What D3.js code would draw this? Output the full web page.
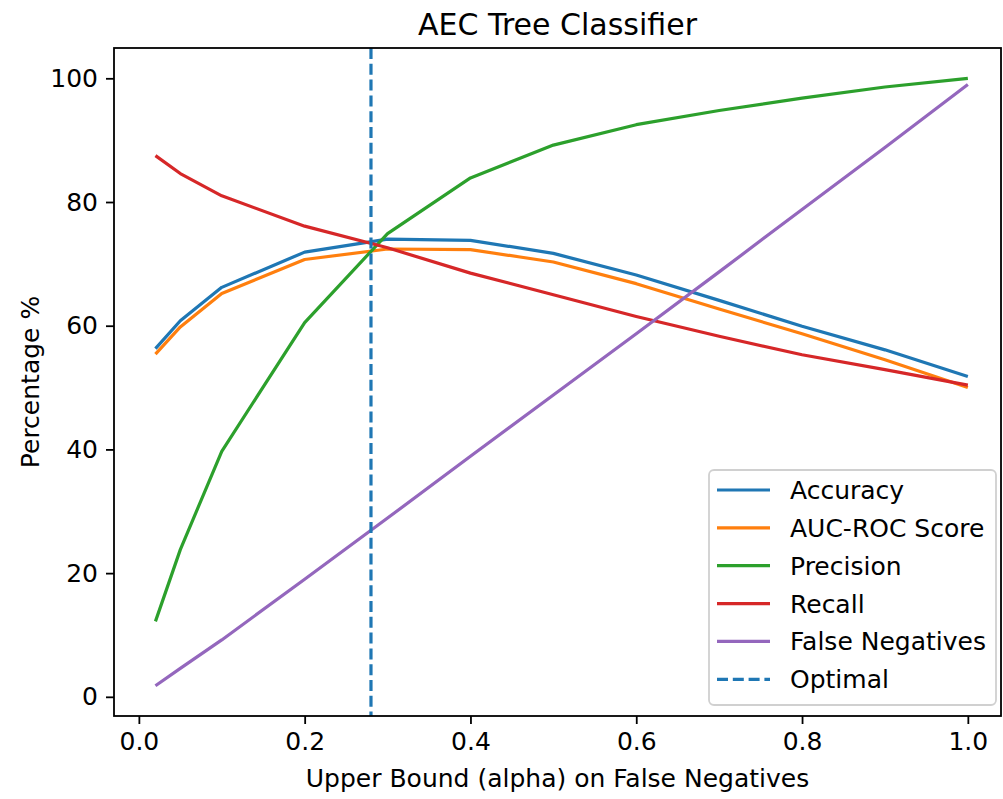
<!DOCTYPE html>
<html>
<head>
<meta charset="utf-8">
<script src="https://cdn.jsdelivr.net/npm/d3@7"></script>
<style>
  html, body { margin: 0; padding: 0; background: #fff; }
  svg { display: block; font-family: "DejaVu Sans", sans-serif; }
</style>
</head>
<body>
<svg id="chart" width="1003" height="799"></svg>
<script>
// ---- data ----
const alphas = [0.02, 0.05, 0.1, 0.2, 0.3, 0.4, 0.5, 0.6, 0.7, 0.8, 0.9, 1.0];
const accuracy = [56.3, 60.8, 66.2, 71.9, 74.0, 73.8, 71.7, 68.2, 64.1, 59.9, 56.1, 51.8];
const aucRoc = [55.4, 59.8, 65.2, 70.7, 72.4, 72.3, 70.3, 66.8, 62.7, 58.7, 54.5, 50.0];
const precision = [12.2, 23.8, 39.7, 60.5, 74.9, 83.9, 89.2, 92.5, 94.8, 96.8, 98.6, 100.0];
const recall = [87.5, 84.6, 81.0, 76.1, 72.6, 68.5, 65.0, 61.5, 58.3, 55.3, 52.9, 50.4];
const falseNegatives = [1.8, 4.6, 9.2, 19.0, 28.9, 38.9, 48.8, 58.7, 68.7, 78.8, 88.8, 99.0];
const optimalAlpha = 0.28;
const xTicks = [0.0, 0.2, 0.4, 0.6, 0.8, 1.0];
const yTicks = [0, 20, 40, 60, 80, 100];
const seriesNames = ["Accuracy", "AUC-ROC Score", "Precision", "Recall", "False Negatives"];
const seriesColors = ["#1f77b4", "#ff7f0e", "#2ca02c", "#d62728", "#9467bd"];
const seriesValues = [accuracy, aucRoc, precision, recall, falseNegatives];
const titleText = "AEC Tree Classifier";
const xLabel = "Upper Bound (alpha) on False Negatives";
const yLabel = "Percentage %";

// ---- layout ----
const svg = d3.select("#chart");
const L = 114, R = 1001, T = 48, B = 716;
const x = d3.scaleLinear().domain([-0.03, 1.04]).range([L, R]);
const y = d3.scaleLinear().domain([-3.1, 104.9]).range([B, T]);

const fs = 25;
const lw = 3.2;
const dash = "11,4.8";

// lines
const line = d3.line().x((d, i) => x(alphas[i])).y(d => y(d));
const g = svg.append("g");
seriesValues.forEach((vals, k) => {
  g.append("path")
    .attr("d", line(vals))
    .attr("fill", "none")
    .attr("stroke", seriesColors[k])
    .attr("stroke-width", lw)
    .attr("stroke-linejoin", "round")
    .attr("stroke-linecap", "butt");
});

// optimal dashed line
g.append("line")
  .attr("x1", x(optimalAlpha)).attr("x2", x(optimalAlpha))
  .attr("y1", T).attr("y2", B)
  .attr("stroke", "#1f77b4")
  .attr("stroke-width", lw)
  .attr("stroke-dasharray", dash);

// axes
const xAxis = d3.axisBottom(x).tickValues(xTicks).tickFormat(d3.format(".1f")).tickSize(8).tickPadding(8);
const yAxis = d3.axisLeft(y).tickValues(yTicks).tickFormat(d3.format("d")).tickSize(8).tickPadding(8);

const gx = svg.append("g").attr("transform", `translate(0,${B})`).call(xAxis);
const gy = svg.append("g").attr("transform", `translate(${L},0)`).call(yAxis);
[gx, gy].forEach(a => {
  a.select(".domain").remove();
  a.selectAll(".tick line").attr("stroke", "#000").attr("stroke-width", 1.8);
  a.selectAll(".tick text").attr("font-size", fs).attr("fill", "#000")
    .attr("font-family", "DejaVu Sans");
});

// frame
svg.append("rect")
  .attr("x", L).attr("y", T).attr("width", R - L).attr("height", B - T)
  .attr("fill", "none").attr("stroke", "#000").attr("stroke-width", 1.8);

// title & labels
svg.append("text").attr("x", (L + R) / 2).attr("y", 35)
  .attr("text-anchor", "middle").attr("font-size", 30).text(titleText);
svg.append("text").attr("x", (L + R) / 2).attr("y", 787)
  .attr("text-anchor", "middle").attr("font-size", fs).text(xLabel);
svg.append("text")
  .attr("transform", `translate(39,${(T + B) / 2}) rotate(-90)`)
  .attr("text-anchor", "middle").attr("font-size", fs).text(yLabel);

// legend
const legX = 709, legY = 470, legW = 287, legH = 235;
const leg = svg.append("g");
leg.append("rect")
  .attr("x", legX).attr("y", legY).attr("width", legW).attr("height", legH)
  .attr("rx", 5).attr("ry", 5)
  .attr("fill", "#fff").attr("fill-opacity", 0.8)
  .attr("stroke", "#d0d0d0").attr("stroke-width", 1.8);
const legendItems = seriesNames.map((n, i) => ({ name: n, color: seriesColors[i], dash: null }))
  .concat([{ name: "Optimal", color: "#1f77b4", dash: dash }]);
legendItems.forEach((it, i) => {
  const cy = legY + 20 + i * 37.86;
  leg.append("line")
    .attr("x1", legX + 8).attr("x2", legX + 61)
    .attr("y1", cy).attr("y2", cy)
    .attr("stroke", it.color).attr("stroke-width", lw)
    .attr("stroke-dasharray", it.dash);
  leg.append("text")
    .attr("x", legX + 81).attr("y", cy + 9)
    .attr("font-size", fs).text(it.name);
});
</script>
</body>
</html>
